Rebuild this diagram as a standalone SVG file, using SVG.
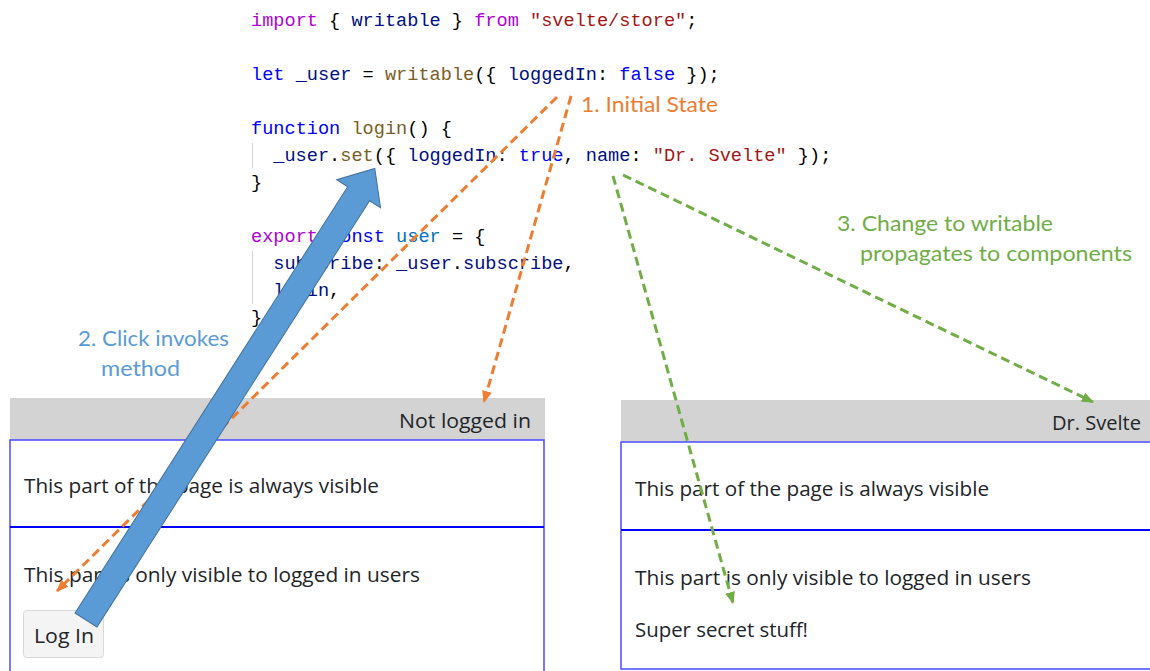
<svg xmlns="http://www.w3.org/2000/svg" width="1150" height="671" viewBox="0 0 1150 671">
<style>
.code{font-family:"Liberation Mono","DejaVu Sans Mono",monospace;font-size:18.6px;fill:#000}
.kp{fill:#AF00DB}.kb{fill:#0000FF}.v{fill:#001080}.f{fill:#795E26}.s{fill:#A31515}.c{fill:#0070C1}
.ui{font-family:"Open Sans","Noto Sans",sans-serif;font-size:20px;fill:#212529}
.call{font-family:Lato,"Open Sans",sans-serif;font-size:22px}
.guide{stroke:#d4d4d4;stroke-width:1}
.hdr{fill:#d3d3d3}
.box{fill:none;stroke:#4a4aff;stroke-width:1.5}
.div{stroke:#0000ff;stroke-width:2}
.or{stroke:#ED7D31;stroke-width:3;stroke-dasharray:9 5;fill:none}
.gr{stroke:#70AD47;stroke-width:3;stroke-dasharray:9 5;fill:none}
</style>
<defs>
<marker id="ao" viewBox="0 0 12 10" refX="11" refY="5" markerWidth="12" markerHeight="10" markerUnits="userSpaceOnUse" orient="auto"><path d="M0,0 L12,5 L0,10 z" fill="#ED7D31"/></marker>
<marker id="ag" viewBox="0 0 12 10" refX="11" refY="5" markerWidth="12" markerHeight="10" markerUnits="userSpaceOnUse" orient="auto"><path d="M0,0 L12,5 L0,10 z" fill="#70AD47"/></marker>
</defs>
<rect width="1150" height="671" fill="#fff"/>

<g id="code">
<line class="guide" x1="252.5" y1="143" x2="252.5" y2="168"/>
<line class="guide" x1="252.5" y1="251" x2="252.5" y2="304"/>
<text class="code" x="251" y="26" xml:space="preserve"><tspan class="kp">import</tspan> { <tspan class="v">writable</tspan> } <tspan class="kp">from</tspan> <tspan class="s">"svelte/store"</tspan>;</text>
<text class="code" x="251" y="80" xml:space="preserve"><tspan class="kb">let</tspan> <tspan class="v">_user</tspan> = <tspan class="f">writable</tspan>({ <tspan class="v">loggedIn</tspan>: <tspan class="kb">false</tspan> });</text>
<text class="code" x="251" y="134" xml:space="preserve"><tspan class="kb">function</tspan> <tspan class="f">login</tspan>() {</text>
<text class="code" x="273.3" y="161" xml:space="preserve"><tspan class="v">_user</tspan>.<tspan class="f">set</tspan>({ <tspan class="v">loggedIn</tspan>: <tspan class="kb">true</tspan>, <tspan class="v">name</tspan>: <tspan class="s">"Dr. Svelte"</tspan> });</text>
<text class="code" x="251" y="188">}</text>
<text class="code" x="251" y="242" xml:space="preserve"><tspan class="kp">export</tspan> <tspan class="kb">const</tspan> <tspan class="c">user</tspan> = {</text>
<text class="code" x="273.3" y="269" xml:space="preserve"><tspan class="v">subscribe</tspan>: <tspan class="v">_user</tspan>.<tspan class="v">subscribe</tspan>,</text>
<text class="code" x="273.3" y="296" xml:space="preserve"><tspan class="v">login</tspan>,</text>
<text class="code" x="251" y="323">}</text>
</g>

<g id="panel-left">
<rect class="hdr" x="10" y="398" width="535" height="42"/>
<text class="ui" x="531" y="428" text-anchor="end" textLength="132" lengthAdjust="spacingAndGlyphs">Not logged in</text>
<rect class="box" x="10" y="440" width="534" height="240"/>
<line class="div" x1="10" y1="527" x2="544" y2="527"/>
<text class="ui" x="24" y="493" textLength="355" lengthAdjust="spacingAndGlyphs">This part of the page is always visible</text>
<text class="ui" x="24" y="582" textLength="396" lengthAdjust="spacingAndGlyphs">This part is only visible to logged in users</text>
</g>

<g id="login-button">
<rect x="23.5" y="610.5" width="80" height="47" rx="3" fill="#f4f4f4" stroke="#d9d9d9" stroke-width="1"/>
<text class="ui" x="34" y="643" textLength="60" lengthAdjust="spacingAndGlyphs">Log In</text>
</g>

<g id="panel-right">
<rect class="hdr" x="621" y="400" width="529" height="42"/>
<text class="ui" x="1141" y="430" text-anchor="end" textLength="89" lengthAdjust="spacingAndGlyphs">Dr. Svelte</text>
<rect class="box" x="621" y="442" width="540" height="227"/>
<line class="div" x1="621" y1="530" x2="1150" y2="530"/>
<text class="ui" x="635" y="496" textLength="354" lengthAdjust="spacingAndGlyphs">This part of the page is always visible</text>
<text class="ui" x="635" y="585" textLength="396" lengthAdjust="spacingAndGlyphs">This part is only visible to logged in users</text>
<text class="ui" x="635" y="637" textLength="173" lengthAdjust="spacingAndGlyphs">Super secret stuff!</text>
</g>

<g id="label-1">
<text class="call" x="581" y="112" fill="#ED7D31" textLength="137" lengthAdjust="spacingAndGlyphs">1. Initial State</text>
</g>
<g id="label-2">
<text class="call" x="78" y="346" fill="#5B9BD5" textLength="151" lengthAdjust="spacingAndGlyphs">2. Click invokes</text>
<text class="call" x="101" y="376" fill="#5B9BD5" textLength="79" lengthAdjust="spacingAndGlyphs">method</text>
</g>
<g id="label-3">
<text class="call" x="837" y="231" fill="#70AD47" textLength="216" lengthAdjust="spacingAndGlyphs">3. Change to writable</text>
<text class="call" x="860" y="261" fill="#70AD47" textLength="272" lengthAdjust="spacingAndGlyphs">propagates to components</text>
</g>

<g id="connectors">
<line class="or" x1="557" y1="97" x2="57" y2="591" marker-end="url(#ao)"/>
<line class="or" x1="571" y1="96" x2="484" y2="402" marker-end="url(#ao)"/>
<line class="gr" x1="613" y1="176" x2="733" y2="603" marker-end="url(#ag)"/>
<line class="gr" x1="623" y1="175" x2="1093" y2="402" marker-end="url(#ag)"/>
<polygon transform="translate(86,620) rotate(-57.4)" points="0,-13 506,-13 506,-26 536,0 506,26 506,13 0,13" fill="#5B9BD5" stroke="#41719C" stroke-width="1"/>
</g>
</svg>
